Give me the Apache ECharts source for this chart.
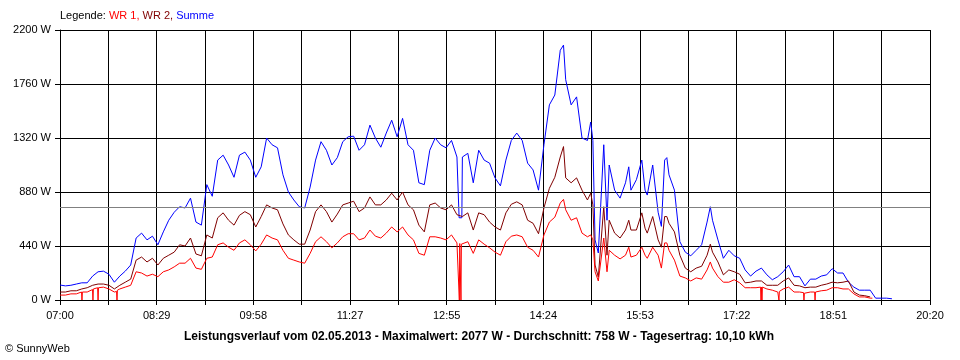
<!DOCTYPE html>
<html><head><meta charset="utf-8">
<script src="https://cdn.jsdelivr.net/npm/echarts@6/dist/echarts.min.js"></script>
<style>html,body{margin:0;padding:0;background:#fff}#c{width:960px;height:360px}</style>
</head><body><div id="c"></div>
<script>
// x values: minutes since 07:00 (axis spans 07:00 .. 20:20 = 800 minutes)
const xTickLabels = ['07:00','08:29','09:58','11:27','12:55','14:24','15:53','17:22','18:51','20:20'];
const yMaxWatts = 2200;
const yStepWatts = 440;
const averageWatts = 758;
const titleText = 'Leistungsverlauf vom 02.05.2013 - Maximalwert: 2077 W - Durchschnitt: 758 W - Tagesertrag: 10,10 kWh';
const copyrightText = '\u00A9 SunnyWeb';

// Summe (blue)
const sumTimes = [0,5,10,15,20,25,30,35,40,45,50,55,60,65,70,75,80,85,90,95,100,105,110,115,120,125,130,135,140,145,150,155,160,165,170,175,180,185,190,195,200,205,210,215,220,225,230,235,240,245,250,255,260,265,270,275,280,285,290,295,300,305,310,315,320,325,330,335,340,345,350,355,360,365,367,369.5,370,375,380,385,390,395,400,405,410,415,420,425,430,435,440,445,450,455,460,463,465,470,475,480,485,488,490,492,495,500,503,505,510,515,520,523,525,530,535,538,540,545,550,553,556,558,560,565,570,575,580,585,590,595,598,600,605,610,615,620,625,630,635,640,645,650,655,660,665,670,675,680,685,690,695,700,705,710,715,720,725,730,735,740,745,750,755,760,765];
const sumWatts = [122,115,120,130,140,140,195,230,235,210,145,195,235,285,505,545,490,520,450,555,650,715,760,750,830,635,610,940,845,1140,1180,1100,1000,1180,1205,1140,1000,1085,1320,1265,1240,1020,880,815,760,750,920,1140,1290,1220,1100,1160,1290,1330,1335,1220,1265,1425,1320,1245,1360,1465,1330,1480,1265,1220,955,940,1220,1320,1265,1240,1300,1165,670,670,1165,1195,955,1220,1140,1115,995,930,1140,1300,1360,1300,1115,1060,895,1265,1590,1670,2035,2077,1795,1590,1655,1320,1300,1450,1300,490,383,1265,650,1100,895,830,955,1085,895,980,1140,895,855,1100,715,600,1140,1160,1020,895,475,390,360,405,450,635,760,650,490,340,405,360,340,245,195,235,260,205,165,190,230,285,190,190,115,170,170,195,205,255,220,220,145,105,80,80,80,15,15,15,10];

// WR 2 (dark red)
const wr2Times = [0,5,10,15,20,25,30,35,40,45,50,55,60,65,70,75,80,85,90,95,100,105,110,115,120,125,130,135,140,145,150,155,160,165,170,175,180,185,190,195,200,205,210,215,220,225,230,235,240,245,250,255,260,265,270,275,280,285,290,295,300,305,310,315,320,325,330,335,340,345,350,355,360,365,370,375,380,385,390,395,400,405,410,415,420,425,430,435,440,445,450,455,460,463,465,470,475,480,485,488,490,492,495,500,503,505,510,515,520,523,525,530,535,538,540,545,550,553,556,558,560,565,570,575,580,585,590,595,598,600,605,610,615,620,625,630,635,640,645,650,655,660,665,670,675,680,685,690,695,700,705,710,715,720,725,730,735,740,745];
const wr2Watts = [65,65,75,75,90,100,120,130,130,120,90,120,145,170,325,350,310,340,285,340,365,390,450,440,505,375,360,530,505,670,710,650,610,690,720,695,595,680,775,750,735,620,530,490,455,455,570,720,775,720,635,700,775,790,805,720,750,840,775,775,815,870,815,880,775,735,610,555,775,790,750,735,775,695,680,710,570,710,695,635,595,570,710,780,800,775,650,625,540,750,910,1000,1165,1250,995,955,995,895,815,870,775,285,187,760,365,650,545,505,570,650,570,570,710,585,545,680,490,430,680,680,625,555,365,260,230,260,275,365,455,390,310,205,245,230,210,140,145,155,155,120,120,120,155,180,120,115,100,105,105,120,130,145,140,145,155,65,40,35,25];

// WR 1 (red)
const wr1Times = [0,5,10,15,19.8,20.2,20.6,25,29.9,30.3,30.7,34.6,35,35.4,40,45,50,52,52.4,52.8,55,60,65,70,75,80,85,90,95,100,105,110,115,120,125,130,135,140,145,150,155,160,165,170,175,180,185,190,195,200,205,210,215,220,225,230,235,240,245,250,255,260,265,270,275,280,285,290,295,300,305,310,315,320,325,330,335,340,345,350,355,360,365,366.8,367.2,367.6,368.3,368.7,369.1,370,375,380,385,390,395,400,405,410,415,420,425,430,435,440,445,450,455,460,463,465,470,475,480,485,488,490,492,495,500,503,505,510,515,520,523,525,530,535,538,540,545,550,553,556,558,560,565,570,575,580,585,590,595,598,600,605,610,615,620,625,630,635,640,644.2,644.6,645,645.5,645.9,650,655,660,660.7,661.1,661.5,665,670,675,680,683.7,684.1,684.5,690,693.9,694.3,694.7,700,705,710,715,720,725,730,735,740,745,747];
const wr1Watts = [40,40,50,50,65,0,65,65,85,0,90,100,0,100,105,90,65,70,0,80,90,105,120,230,220,195,210,190,230,245,270,300,300,340,260,250,340,350,450,465,430,405,465,490,450,400,455,530,505,490,405,340,325,310,300,380,475,515,475,425,465,515,540,540,490,505,570,520,505,545,595,555,595,530,490,380,365,515,515,505,490,530,465,465,0,460,460,0,455,450,475,380,490,455,425,390,365,475,520,530,515,430,405,350,530,635,675,790,820,735,650,670,545,515,530,490,230,155,505,230,405,365,335,365,430,350,365,430,365,340,430,365,260,465,465,405,325,195,180,155,180,170,245,310,260,190,145,145,165,140,100,100,100,105,0,105,0,105,90,80,65,65,0,70,90,105,65,65,60,0,55,65,65,0,65,75,80,100,100,90,90,50,25,25,15,15];

const pairs = (t, v) => t.map((x, i) => [x, v[i]]);
const FONT = '"Liberation Sans", Arial, sans-serif';
const SPAN = 800;

const chart = echarts.init(document.getElementById('c'), null, {renderer: 'canvas'});
chart.setOption({
  animation: false,
  backgroundColor: '#ffffff',
  grid: {left: 60, right: 30, top: 30, bottom: 60, containLabel: false},
  xAxis: {
    type: 'value', min: 0, max: SPAN, interval: SPAN / 18,
    axisLine: {show: true, onZero: false, lineStyle: {color: '#000', width: 1}},
    axisTick: {show: true, length: 5, lineStyle: {color: '#000'}},
    splitLine: {show: true, showMinLine: true, showMaxLine: true, lineStyle: {color: '#000', width: 1}},
    axisLabel: {
      color: '#000', fontFamily: FONT, fontSize: 11, margin: 10,
      showMinLabel: true, showMaxLabel: true, hideOverlap: false,
      formatter: v => {
        const k = v / (SPAN / 9);
        const r = Math.round(k);
        return Math.abs(k - r) < 1e-6 ? xTickLabels[r] : '';
      }
    }
  },
  yAxis: {
    type: 'value', min: 0, max: yMaxWatts, interval: yStepWatts,
    axisLine: {show: true, lineStyle: {color: '#000', width: 1}},
    axisTick: {show: true, length: 5, lineStyle: {color: '#000'}},
    splitLine: {show: true, showMinLine: true, showMaxLine: true, lineStyle: {color: '#000', width: 1}},
    axisLabel: {color: '#000', fontFamily: FONT, fontSize: 11, margin: 9, formatter: v => String(Math.round(v)) + ' W'}
  },
  series: [
    {
      name: 'Summe', type: 'line', data: pairs(sumTimes, sumWatts), showSymbol: false,
      lineStyle: {color: '#0000ff', width: 1}, itemStyle: {color: '#0000ff'}, z: 3,
      markLine: {
        silent: true, symbol: 'none', label: {show: false},
        lineStyle: {color: '#808080', type: 'solid', width: 1},
        data: [{yAxis: averageWatts}]
      }
    },
    {
      name: 'WR 2', type: 'line', data: pairs(wr2Times, wr2Watts), showSymbol: false,
      lineStyle: {color: '#800000', width: 1}, itemStyle: {color: '#800000'}, z: 4
    },
    {
      name: 'WR 1', type: 'line', data: pairs(wr1Times, wr1Watts), showSymbol: false,
      lineStyle: {color: '#ff0000', width: 1}, itemStyle: {color: '#ff0000'}, z: 5
    }
  ],
  graphic: [
    {
      type: 'text', x: 60, y: 16,
      style: {
        text: '{k|Legende: }{a|WR 1, }{b|WR 2, }{c|Summe}',
        font: '11px ' + FONT, verticalAlign: 'middle',
        rich: {
          k: {fill: '#000', fontFamily: FONT, fontSize: 11},
          a: {fill: '#ff0000', fontFamily: FONT, fontSize: 11},
          b: {fill: '#800000', fontFamily: FONT, fontSize: 11},
          c: {fill: '#0000ff', fontFamily: FONT, fontSize: 11}
        }
      }
    },
    {
      type: 'text', x: 479, y: 337,
      style: {text: titleText, fill: '#000', font: 'bold 12px ' + FONT, align: 'center', verticalAlign: 'middle'}
    },
    {
      type: 'text', x: 5, y: 349,
      style: {text: copyrightText, fill: '#000', font: '11px ' + FONT, align: 'left', verticalAlign: 'middle'}
    }
  ]
});
</script>
</body></html>
